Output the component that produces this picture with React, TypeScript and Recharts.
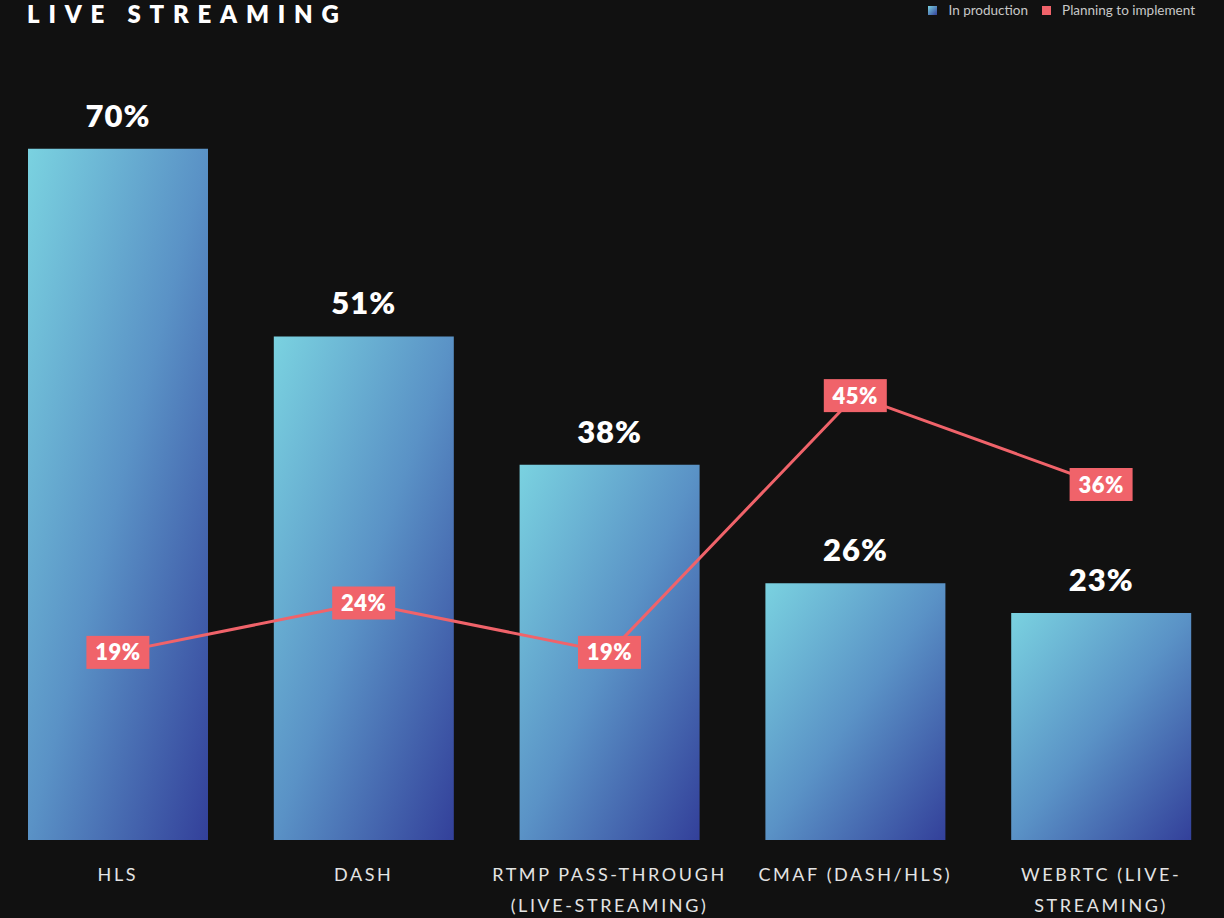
import React from 'react';
import { ComposedChart, Bar, Line, XAxis, YAxis, LabelList } from 'recharts';

const categories = ['HLS', 'DASH', 'RTMP PASS-THROUGH (LIVE-STREAMING)', 'CMAF (DASH/HLS)', 'WEBRTC (LIVE-STREAMING)'];
const tickLines = [['HLS'], ['DASH'], ['RTMP PASS-THROUGH', '(LIVE-STREAMING)'], ['CMAF (DASH/HLS)'], ['WEBRTC (LIVE-', 'STREAMING)']];
const inProduction = [70, 51, 38, 26, 23];
const planning = [19, 24, 19, 45, 36];

const data = categories.map((c, i) => ({ name: c, prod: inProduction[i], plan: planning[i] }));

const FONT = 'Lato, "Open Sans", sans-serif';
const RED = '#f0636a';

const Tick = (props: any) => {
  const { x, y, payload } = props;
  const lines = tickLines[payload.index] || [payload.value];
  return (
    <g>
      {lines.map((l: string, i: number) => (
        <text key={i} x={x} y={y + 33 + i * 31} textAnchor="middle" fill="#e4e4e4" fontSize={18} fontFamily={FONT} letterSpacing={2.6}>
          {l}
        </text>
      ))}
    </g>
  );
};

const BarLabel = (props: any) => {
  const { x, y, width, value } = props;
  return (
    <text x={x + width / 2} y={y - 22} textAnchor="middle" fill="#ffffff" fontSize={31} fontWeight={800} fontFamily={FONT} letterSpacing={1}>
      {value}%
    </text>
  );
};

const LineLabel = (props: any) => {
  const { x, y, value } = props;
  const w = 63, h = 33;
  return (
    <g>
      <rect x={x - w / 2} y={y - h / 2} width={w} height={h} fill={RED} />
      <text x={x} y={y + 8} textAnchor="middle" fill="#ffffff" fontSize={22} fontWeight={800} fontFamily={FONT} letterSpacing={0.5}>
        {value}%
      </text>
    </g>
  );
};

export default function App() {
  return (
    <div style={{ position: 'fixed', left: 0, top: 0, width: 1224, height: 918, background: '#111111', overflow: 'hidden' }}>
      <div style={{ position: 'absolute', left: 27, top: 0, color: '#ffffff', fontFamily: FONT, fontWeight: 800, fontSize: 24, letterSpacing: 8.8, lineHeight: '28px' }}>
        LIVE STREAMING
      </div>
      <div style={{ position: 'absolute', right: 29, top: 2, display: 'flex', alignItems: 'center', fontFamily: FONT, fontSize: 13.5, color: '#c8c8c8' }}>
        <span style={{ width: 9, height: 9, background: 'linear-gradient(135deg,#7ad2e0,#33409a)', display: 'inline-block', marginRight: 11 }} />
        <span style={{ marginRight: 14 }}>In production</span>
        <span style={{ width: 9, height: 9, background: RED, display: 'inline-block', marginRight: 11 }} />
        <span>Planning to implement</span>
      </div>
      <div style={{ position: 'absolute', left: -5, top: 0 }}>
        <ComposedChart width={1229} height={918} data={data} margin={{ top: 50, right: 0, bottom: 0, left: 0 }}>
          <defs>
            <linearGradient id="barGrad" x1="0" y1="0" x2="1" y2="1">
              <stop offset="0%" stopColor="#7ad2e0" />
              <stop offset="50%" stopColor="#5a92c6" />
              <stop offset="100%" stopColor="#33409a" />
            </linearGradient>
          </defs>
          <XAxis dataKey="name" axisLine={false} tickLine={false} height={78} tick={<Tick />} interval={0} />
          <YAxis hide domain={[0, 80]} />
          <Bar dataKey="prod" name="In production" fill="url(#barGrad)" barSize={180} isAnimationActive={false}>
            <LabelList dataKey="prod" content={<BarLabel />} />
          </Bar>
          <Line dataKey="plan" name="Planning to implement" stroke={RED} strokeWidth={3} dot={false} activeDot={false} isAnimationActive={false}>
            <LabelList dataKey="plan" content={<LineLabel />} />
          </Line>
        </ComposedChart>
      </div>
    </div>
  );
}
